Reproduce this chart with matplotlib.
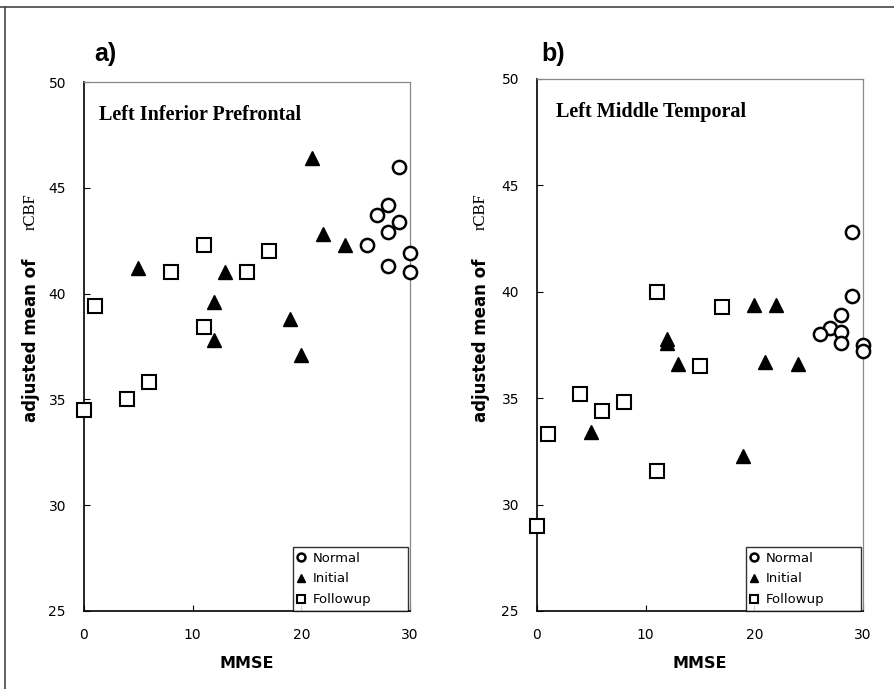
import matplotlib
matplotlib.use("Agg")
import matplotlib.pyplot as plt
from matplotlib.lines import Line2D

# ---- data ----
a_normal_x = [26, 27, 28, 28, 29, 29, 28, 30, 30]
a_normal_y = [42.3, 43.7, 44.2, 42.9, 43.4, 46.0, 41.3, 41.9, 41.0]
a_initial_x = [21, 22, 24, 5, 13, 12, 19, 12, 20]
a_initial_y = [46.4, 42.8, 42.3, 41.2, 41.0, 39.6, 38.8, 37.8, 37.1]
a_follow_x = [1, 8, 11, 15, 17, 11, 6, 4, 0]
a_follow_y = [39.4, 41.0, 42.3, 41.0, 42.0, 38.4, 35.8, 35.0, 34.5]

b_normal_x = [29, 29, 28, 27, 26, 28, 28, 30, 30]
b_normal_y = [42.8, 39.8, 38.9, 38.3, 38.0, 38.1, 37.6, 37.5, 37.2]
b_initial_x = [20, 22, 12, 12, 13, 21, 24, 5, 19]
b_initial_y = [39.4, 39.4, 37.8, 37.6, 36.6, 36.7, 36.6, 33.4, 32.3]
b_follow_x = [11, 17, 15, 4, 6, 8, 1, 11, 0]
b_follow_y = [40.0, 39.3, 36.5, 35.2, 34.4, 34.8, 33.3, 31.6, 29.0]

titles = ["Left Inferior Prefrontal", "Left Middle Temporal"]
title_x = [1.4, 1.75]
panel_labels = ["a)", "b)"]
legend_labels = ["Normal", "Initial", "Followup"]
xticks = [0, 10, 20, 30]
yticks = [25, 30, 35, 40, 45, 50]

W, H = 895, 689
fig = plt.figure(figsize=(W / 100, H / 100), dpi=100)

def px_axes(l, r, t, b):
    return fig.add_axes([l / W, 1 - b / H, (r - l) / W, (b - t) / H])

sans = "DejaVu Sans"
serif = "Liberation Serif"

panels = [
    (px_axes(84, 410, 82, 611), (a_normal_x, a_normal_y), (a_initial_x, a_initial_y), (a_follow_x, a_follow_y), 31),
    (px_axes(537, 863, 79, 611), (b_normal_x, b_normal_y), (b_initial_x, b_initial_y), (b_follow_x, b_follow_y), 481),
]

for i, (ax, nrm, ini, fol, ylx) in enumerate(panels):
    ax.set_xlim(0, 30)
    ax.set_ylim(25, 50)
    h1, = ax.plot(nrm[0], nrm[1], linestyle="none", marker="o", markersize=9.5,
                  markerfacecolor="white", markeredgecolor="black", markeredgewidth=1.8, clip_on=False, zorder=3)
    h2, = ax.plot(ini[0], ini[1], linestyle="none", marker="^", markersize=10,
                  markerfacecolor="black", markeredgecolor="black", clip_on=False, zorder=3)
    h3, = ax.plot(fol[0], fol[1], linestyle="none", marker="s", markersize=10,
                  markerfacecolor="white", markeredgecolor="black", markeredgewidth=1.5, clip_on=False, zorder=3)
    ax.set_xticks(xticks)
    ax.set_yticks(yticks)
    ax.tick_params(direction="in", length=4, width=0.8, labelsize=10, pad=12)
    ax.tick_params(axis="y", pad=13)
    for lab in ax.get_xticklabels() + ax.get_yticklabels():
        lab.set_fontfamily(sans)
    for s in ["left", "bottom"]:
        ax.spines[s].set_color("black")
        ax.spines[s].set_linewidth(1.2)
    for s in ["top", "right"]:
        ax.spines[s].set_color("#888888")
        ax.spines[s].set_linewidth(0.9)
    ax.text(title_x[i], 48.45, titles[i], fontsize=14.5, fontweight="bold", fontfamily=serif,
            ha="left", va="center")
    ax.set_xlabel("MMSE", fontsize=11.5, fontweight="bold", fontfamily=sans, labelpad=10)
    leg = ax.legend([h1, h2, h3], legend_labels, loc="lower left",
                    bbox_to_anchor=(0.64, 0.0, 0.355, 0.137), mode="expand",
                    frameon=True, fancybox=False, borderaxespad=0.0,
                    handlelength=0.6, handletextpad=0.6, borderpad=0.35,
                    labelspacing=0.6, markerscale=0.6,
                    prop={"family": sans, "size": 9.5})
    leg.get_frame().set_edgecolor("black")
    leg.get_frame().set_linewidth(1.0)
    # y label: mixed fonts
    fig.text(ylx / W, 1 - 340 / H, "adjusted mean of", rotation=90, ha="center", va="center",
             fontsize=12, fontweight="bold", fontfamily=sans)
    fig.text(ylx / W, 1 - 212 / H, "rCBF", rotation=90, ha="center", va="center",
             fontsize=12, fontfamily=serif)

fig.text(105 / W, 1 - 54 / H, panel_labels[0], fontsize=18, fontweight="bold", fontfamily="Liberation Sans",
         ha="center", va="center")
fig.text(553 / W, 1 - 54 / H, panel_labels[1], fontsize=18, fontweight="bold", fontfamily="Liberation Sans",
         ha="center", va="center")

# outer frame lines (top and left)
fig.add_artist(Line2D([0, 1], [1 - 7 / H, 1 - 7 / H], color="#444444", linewidth=1.2, transform=fig.transFigure))
fig.add_artist(Line2D([5 / W, 5 / W], [0, 1 - 7 / H], color="#444444", linewidth=1.2, transform=fig.transFigure))

fig.savefig("out.png", dpi=100)
